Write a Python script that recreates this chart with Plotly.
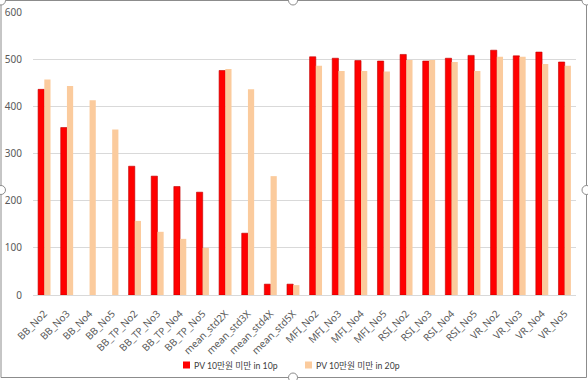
import plotly.graph_objects as go

categories = ["BB_No2", "BB_No3", "BB_No4", "BB_No5", "BB_TP_No2", "BB_TP_No3", "BB_TP_No4", "BB_TP_No5",
              "mean_std2X", "mean_std3X", "mean_std4X", "mean_std5X",
              "MFI_No2", "MFI_No3", "MFI_No4", "MFI_No5",
              "RSI_No2", "RSI_No3", "RSI_No4", "RSI_No5",
              "VR_No2", "VR_No3", "VR_No4", "VR_No5"]
series_10p = [436, 355, 0, 0, 273, 252, 230, 218,
              476, 131, 23, 23,
              505, 502, 497, 496,
              510, 496, 502, 508,
              519, 507, 515, 494]
series_20p = [457, 443, 413, 351, 157, 134, 119, 100,
              479, 436, 252, 21,
              486, 475, 475, 474,
              498, 498, 494, 475,
              505, 505, 490, 486]
name_10p = "PV 10만원 미만 in 10p"
name_20p = "PV 10만원 미만 in 20p"
y_ticks = [0, 100, 200, 300, 400, 500, 600]

RED = "#FF0000"
ORANGE = "#FBCB9D"

fig = go.Figure()
fig.add_trace(go.Bar(x=categories, y=series_10p, name=name_10p, showlegend=False,
                     marker=dict(color=RED,
                                 line=dict(color="#C00000", width=[0.6 if v > 0 else 0 for v in series_10p]))))
fig.add_trace(go.Bar(x=categories, y=series_20p, name=name_20p, showlegend=False,
                     marker=dict(color=ORANGE, line=dict(width=0))))

L, R, T, B = 33, 576, 12, 295
pw, ph = R - L, B - T

def px(x):
    return (x - L) / pw

def py(y):
    return (B - y) / ph

shapes = [dict(type="rect", xref="paper", yref="paper",
               x0=px(1), x1=px(586.5), y0=py(377.5), y1=py(0.5),
               line=dict(color="#8C8C8C", width=1), fillcolor="rgba(0,0,0,0)", layer="below")]
for hx, hy in [(1, 0.5), (293, 0.5), (586.5, 0.5), (1, 190), (586.5, 190), (293, 377.5)]:
    r = 4.5
    shapes.append(dict(type="circle", xref="paper", yref="paper",
                       x0=px(hx - r), x1=px(hx + r), y0=py(hy + r), y1=py(hy - r),
                       line=dict(color="#8C8C8C", width=1), fillcolor="white"))

# custom legend (small squares right next to the text, as in the reference)
annotations = []
legend_items = [(name_10p, RED, 183), (name_20p, ORANGE, 305)]
ly = 365
for name, col, lx in legend_items:
    shapes.append(dict(type="rect", xref="paper", yref="paper",
                       x0=px(lx), x1=px(lx + 7), y0=py(ly + 3.5), y1=py(ly - 3.5),
                       line=dict(width=0), fillcolor=col))
    annotations.append(dict(text=name, xref="paper", yref="paper", x=px(lx + 8.5), y=py(ly),
                            xanchor="left", yanchor="middle", showarrow=False,
                            font=dict(family="Lato, Noto Sans CJK KR", size=8.7, color="#404040")))

fig.update_layout(
    width=588, height=380,
    margin=dict(l=L, r=588 - R, t=T, b=380 - B, pad=0),
    paper_bgcolor="white", plot_bgcolor="white",
    barmode="group", bargap=0.45, bargroupgap=0,
    font=dict(family="Noto Sans, Noto Sans CJK KR", size=10, color="#595959"),
    showlegend=False,
    xaxis=dict(tickangle=-45, showgrid=False, showline=True, linecolor="#D9D9D9",
               ticks="", ticklabelstandoff=8, tickfont=dict(size=10, color="#595959"), automargin=False),
    yaxis=dict(range=[0, 600], tickvals=y_ticks, showgrid=True, gridcolor="#D9D9D9",
               zeroline=False, showline=False, ticks="", ticklabelstandoff=10,
               tickfont=dict(size=10, color="#595959"), automargin=False),
    shapes=shapes,
    annotations=annotations,
)

fig.write_html("out.html", config={"displayModeBar": False},
               post_script="document.body.style.margin='0';document.body.style.overflow='hidden';")
